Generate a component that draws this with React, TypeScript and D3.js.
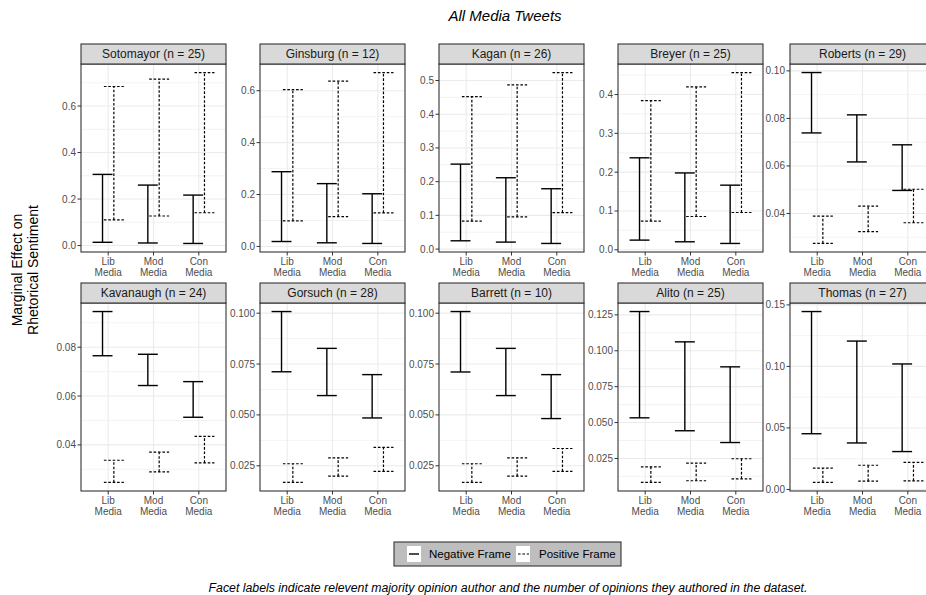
import React from "react";
import * as d3 from "d3";

// Media outlet ideology categories (x axis of every facet)
const categories = ["Lib Media", "Mod Media", "Con Media"];

// Facets: majority opinion author and number of opinions authored
const justices = ["Sotomayor", "Ginsburg", "Kagan", "Breyer", "Roberts", "Kavanaugh", "Gorsuch", "Barrett", "Alito", "Thomas"];
const opinionCounts = [25, 12, 26, 25, 29, 24, 28, 10, 25, 27];

// Confidence interval bounds of the marginal effect, per facet, per category
const negativeLower = [
  [0.014, 0.011, 0.009],
  [0.019, 0.014, 0.0115],
  [0.0246, 0.0207, 0.0167],
  [0.0249, 0.0206, 0.0163],
  [0.0739, 0.0617, 0.0497],
  [0.0765, 0.0643, 0.0513],
  [0.0712, 0.0595, 0.0485],
  [0.0711, 0.0595, 0.0482],
  [0.0533, 0.0443, 0.0361],
  [0.0453, 0.0378, 0.0308],
];
const negativeUpper = [
  [0.306, 0.26, 0.217],
  [0.288, 0.242, 0.203],
  [0.252, 0.2116, 0.179],
  [0.237, 0.198, 0.1665],
  [0.0993, 0.0815, 0.0689],
  [0.0946, 0.0771, 0.0659],
  [0.1008, 0.0827, 0.0698],
  [0.1008, 0.0827, 0.0698],
  [0.1273, 0.1062, 0.0888],
  [0.1446, 0.1206, 0.102],
];
const positiveLower = [
  [0.11, 0.127, 0.141],
  [0.0985, 0.115, 0.129],
  [0.0827, 0.0955, 0.108],
  [0.0738, 0.0858, 0.0961],
  [0.0274, 0.0324, 0.0361],
  [0.0246, 0.0289, 0.0326],
  [0.0168, 0.0199, 0.0222],
  [0.0168, 0.0199, 0.0222],
  [0.0083, 0.0095, 0.0108],
  [0.0057, 0.0067, 0.007],
];
const positiveUpper = [
  [0.684, 0.716, 0.744],
  [0.604, 0.637, 0.67],
  [0.452, 0.487, 0.5236],
  [0.3845, 0.4197, 0.4567],
  [0.0389, 0.0431, 0.0502],
  [0.0337, 0.037, 0.0435],
  [0.026, 0.0289, 0.034],
  [0.026, 0.0289, 0.0335],
  [0.0192, 0.0218, 0.0248],
  [0.0173, 0.0197, 0.0221],
];

// Y axis breaks and label precision per facet
const yTicks = [
  [0, 0.2, 0.4, 0.6],
  [0, 0.2, 0.4, 0.6],
  [0, 0.1, 0.2, 0.3, 0.4, 0.5],
  [0, 0.1, 0.2, 0.3, 0.4],
  [0.04, 0.06, 0.08, 0.1],
  [0.04, 0.06, 0.08],
  [0.025, 0.05, 0.075, 0.1],
  [0.025, 0.05, 0.075, 0.1],
  [0.025, 0.05, 0.075, 0.1, 0.125],
  [0, 0.05, 0.1, 0.15],
];
const tickDecimals = [1, 1, 1, 1, 2, 2, 3, 3, 3, 2];

const legendLabels = ["Negative Frame", "Positive Frame"];

const FONT = "'Liberation Sans', Arial, Helvetica, sans-serif";
const W = 926;
const H = 595;

// facet grid layout
const colLeft = [81, 260, 439, 618, 790];
const rowTop = [44, 283];
const panelW = 145;
const stripH = 20;
const bodyH = 188;

const DASH = "2.6,1.8";

function Panel({ idx }: { idx: number }) {
  const col = idx % 5;
  const row = Math.floor(idx / 5);
  const left = colLeft[col];
  const right = left + panelW;
  const stripTop = rowTop[row];
  const top = stripTop + stripH;
  const bottom = top + bodyH;

  const lo = Math.min(...negativeLower[idx], ...positiveLower[idx]);
  const hi = Math.max(...negativeUpper[idx], ...positiveUpper[idx]);
  const pad = (hi - lo) * 0.05;
  const y = d3.scaleLinear().domain([lo - pad, hi + pad]).range([bottom, top]);
  const x = d3.scalePoint<string>().domain(categories).range([left, right]).padding(0.6);
  const step = x.step();
  const dodge = step * 0.125;
  const capHalf = step * 0.22;

  const ticks = yTicks[idx];
  const tStep = ticks[1] - ticks[0];
  const minor: number[] = [];
  const [d0, d1] = y.domain();
  for (let i = -1; i < ticks.length; i++) {
    const v = ticks[0] + (i + 0.5) * tStep;
    if (v >= d0 && v <= d1) minor.push(v);
  }
  const fmt = d3.format(`.${tickDecimals[idx]}f`);

  const bars = (lower: number[], upper: number[], offset: number, dashed: boolean) =>
    categories.map((c, i) => {
      const cx = (x(c) as number) + offset;
      const y0 = y(lower[i]);
      const y1 = y(upper[i]);
      const common = {
        stroke: "#000",
        strokeWidth: dashed ? 1.2 : 1.4,
        strokeDasharray: dashed ? DASH : undefined,
        fill: "none",
      };
      return (
        <g key={c}>
          <line x1={cx} x2={cx} y1={y0} y2={y1} {...common} />
          <line x1={cx - capHalf} x2={cx + capHalf} y1={y0} y2={y0} {...common} />
          <line x1={cx - capHalf} x2={cx + capHalf} y1={y1} y2={y1} {...common} />
        </g>
      );
    });

  return (
    <g>
      <defs>
        <clipPath id={`clip-${idx}`}>
          <rect x={left} y={top} width={panelW} height={bodyH} />
        </clipPath>
      </defs>
      <rect x={left} y={top} width={panelW} height={bodyH} fill="#fff" />
      <g clipPath={`url(#clip-${idx})`}>
        {minor.map((v) => (
          <line key={`mn${v}`} x1={left} x2={right} y1={y(v)} y2={y(v)} stroke="#EBEBEB" strokeWidth={0.6} />
        ))}
        {ticks.map((v) => (
          <line key={`mj${v}`} x1={left} x2={right} y1={y(v)} y2={y(v)} stroke="#EBEBEB" strokeWidth={1.1} />
        ))}
        {categories.map((c) => (
          <line key={`vx${c}`} x1={x(c)} x2={x(c)} y1={top} y2={bottom} stroke="#EBEBEB" strokeWidth={1.1} />
        ))}
        {bars(negativeLower[idx], negativeUpper[idx], -dodge, false)}
        {bars(positiveLower[idx], positiveUpper[idx], dodge, true)}
      </g>
      <rect x={left} y={top} width={panelW} height={bodyH} fill="none" stroke="#333" strokeWidth={1.1} />
      {/* strip */}
      <rect x={left} y={stripTop} width={panelW} height={stripH} fill="#D9D9D9" stroke="#333" strokeWidth={1.1} />
      <text x={left + panelW / 2} y={stripTop + stripH / 2} dy="0.36em" textAnchor="middle" fontSize={12} fill="#1A1A1A" fontFamily={FONT}>
        {`${justices[idx]} (n = ${opinionCounts[idx]})`}
      </text>
      {/* y axis */}
      {ticks.map((v) => (
        <g key={`yt${v}`}>
          <line x1={left - 3.5} x2={left} y1={y(v)} y2={y(v)} stroke="#333" strokeWidth={1} />
          <text x={left - 5} y={y(v)} dy="0.35em" textAnchor="end" fontSize={10} fill="#4D4D4D" fontFamily={FONT}>
            {fmt(v)}
          </text>
        </g>
      ))}
      {/* x axis */}
      {categories.map((c) => {
        const [l1, l2] = c.split(" ");
        const cx = x(c) as number;
        return (
          <g key={`xt${c}`}>
            <line x1={cx} x2={cx} y1={bottom} y2={bottom + 3.5} stroke="#333" strokeWidth={1} />
            <text x={cx} y={bottom + 12.6} textAnchor="middle" fontSize={10} fill="#4D4D4D" fontFamily={FONT}>
              {l1}
            </text>
            <text x={cx} y={bottom + 23.6} textAnchor="middle" fontSize={10} fill="#4D4D4D" fontFamily={FONT}>
              {l2}
            </text>
          </g>
        );
      })}
    </g>
  );
}

export default function App() {
  return (
    <svg
      width={W}
      height={H}
      viewBox={`0 0 ${W} ${H}`}
      style={{ position: "absolute", left: 0, top: 0, background: "#fff" }}
      fontFamily={FONT}
    >
      <rect x={0} y={0} width={W} height={H} fill="#fff" />
      <text x={505} y={21} textAnchor="middle" fontSize={15} fontStyle="italic" fill="#000">
        All Media Tweets
      </text>
      <g transform="translate(22,270) rotate(-90)">
        <text textAnchor="middle" fontSize={14} fill="#000">Marginal Effect on</text>
      </g>
      <g transform="translate(38,270) rotate(-90)">
        <text textAnchor="middle" fontSize={14} fill="#000">Rhetorical Sentiment</text>
      </g>
      {justices.map((_, i) => (
        <Panel key={i} idx={i} />
      ))}
      {/* legend */}
      <g>
        <rect x={394} y={542} width={227} height={24} fill="#BEBEBE" stroke="#333" strokeWidth={1.1} />
        <rect x={407} y={546} width={14} height={16} fill="#fff" />
        <line x1={409} x2={419} y1={554} y2={554} stroke="#000" strokeWidth={1.4} />
        <text x={429} y={558} fontSize={11.5} fill="#000">{legendLabels[0]}</text>
        <rect x={516} y={546} width={14} height={16} fill="#fff" />
        <line x1={518} x2={529} y1={554} y2={554} stroke="#000" strokeWidth={1.2} strokeDasharray={DASH} />
        <text x={539} y={558} fontSize={11.5} fill="#000">{legendLabels[1]}</text>
      </g>
      <text x={508} y={592} textAnchor="middle" fontSize={12.3} fontStyle="italic" fill="#000">
        Facet labels indicate relevent majority opinion author and the number of opinions they authored in the dataset.
      </text>
    </svg>
  );
}
